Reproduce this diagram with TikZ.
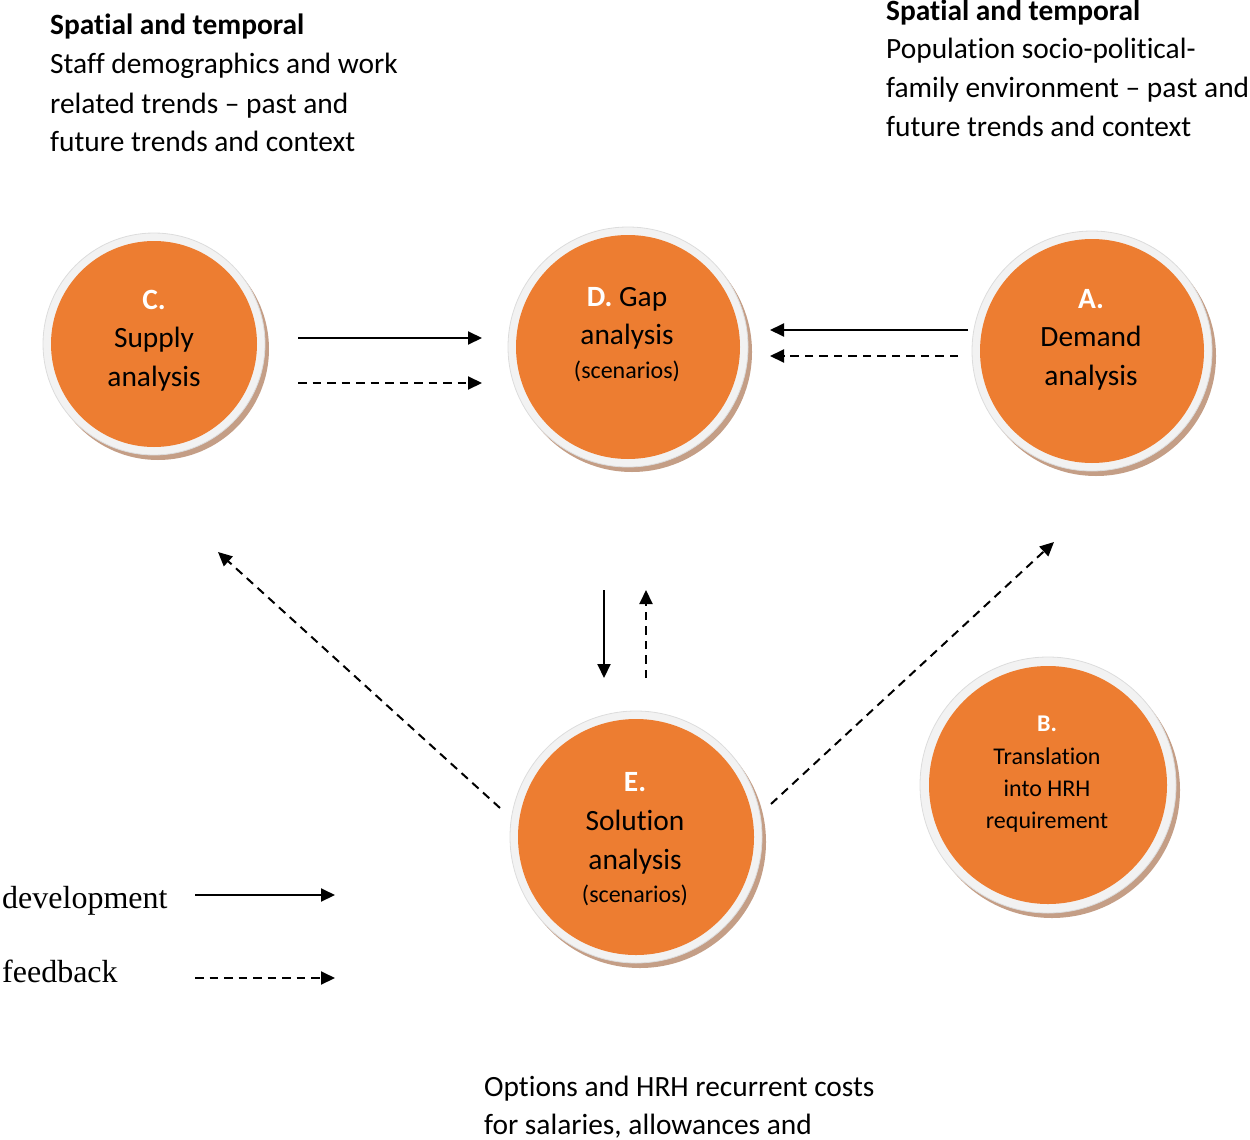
\documentclass[tikz,border=0pt]{standalone}
\usepackage{fontspec}
\setmainfont{Carlito}[Ligatures={TeX,NoCommon}]
\newfontfamily\legendfont{Liberation Serif}
\usetikzlibrary{arrows.meta}
\definecolor{discorange}{HTML}{ED7D31}
\definecolor{ringgray}{HTML}{F2F2F2}
\definecolor{ringedge}{HTML}{DCDCDC}
\definecolor{shadowbrown}{HTML}{C49E86}
\tikzset{
  big/.style={font=\fontsize{29.4}{38}\selectfont},
  small/.style={font=\fontsize{24}{32}\selectfont},
  legendtext/.style={font=\legendfont\fontsize{32}{38}\selectfont},
  lbl/.style={inner sep=0pt, anchor=base},
  lblw/.style={inner sep=0pt, anchor=base west},
  dev/.style={line width=2pt, -{Triangle[length=14pt,width=13pt]}},
  fb/.style={dev, dash pattern=on 8.5pt off 6pt},
}
\newcommand\mydisc[5]{%
  \fill[shadowbrown] (#2+4,#3+5) circle[radius=#4];
  \path[fill=ringgray, draw=ringedge, line width=0.8pt] (#2,#3) circle[radius=#4];
  \fill[discorange] (#2,#3) circle[radius=#5];
  \node[circle, minimum size=2*#4, inner sep=0pt] (#1) at (#2,#3) {};
}
\begin{document}
\begin{tikzpicture}[x=1pt,y=-1pt]
\useasboundingbox (0,0) rectangle (1250,1140);

% discs
\mydisc{C}{154}{344}{111}{103}
\mydisc{D}{628}{347}{120}{112}
\mydisc{A}{1092}{351}{120}{112}
\mydisc{B}{1048}{785}{128}{119}
\mydisc{E}{636}{837}{126}{118}

% disc texts
\node[lbl,big] (Ct1) at (154,309) {\color{white}\bfseries C.};
\node[lbl,big] (Ct2) at (154,347) {Supply};
\node[lbl,big] (Ct3) at (154,386) {analysis};

\node[lbl,big] (Dt1) at (627,306) {{\color{white}\bfseries D.} Gap};
\node[lbl,big] (Dt2) at (627,344) {analysis};
\node[lbl,small] (Dt3) at (627,378) {(scenarios)};

\node[lbl,big] (At1) at (1091,308) {\color{white}\bfseries A.};
\node[lbl,big] (At2) at (1091,346) {Demand};
\node[lbl,big] (At3) at (1091,385) {analysis};

\node[lbl,small] (Bt1) at (1047,731) {\color{white}\bfseries B.};
\node[lbl,small] (Bt2) at (1047,764) {Translation};
\node[lbl,small] (Bt3) at (1047,796) {into HRH};
\node[lbl,small] (Bt4) at (1047,828) {requirement};

\node[lbl,big] (Et1) at (635,791) {\color{white}\bfseries E.};
\node[lbl,big] (Et2) at (635,830) {Solution};
\node[lbl,big] (Et3) at (635,869) {analysis};
\node[lbl,small] (Et4) at (635,902) {(scenarios)};

% header texts
\node[lblw,big] (hl1) at (50,35) {\bfseries Spatial and temporal};
\node[lblw,big] (hl2) at (50,74) {Staff demographics and work};
\node[lblw,big] (hl3) at (50,113) {related trends -- past and};
\node[lblw,big] (hl4) at (50,151) {future trends and context};

\node[lblw,big] (hr1) at (886,21) {\bfseries Spatial and temporal};
\node[lblw,big] (hr2) at (886,59) {Population socio-political-};
\node[lblw,big] (hr3) at (886,97) {family environment -- past and};
\node[lblw,big] (hr4) at (886,136) {future trends and context};

\node[lblw,big] (bt1) at (484,1096) {Options and HRH recurrent costs};
\node[lblw,big] (bt2) at (484,1134) {for salaries, allowances and};

% legend
\node[lblw,legendtext] (lg1) at (2,908) {development};
\node[lblw,legendtext] (lg2) at (2,982) {feedback};

% connector end points
\coordinate (cdA) at (298,338); \coordinate (cdB) at (482,338);
\coordinate (cdC) at (298,383); \coordinate (cdD) at (482,383);
\coordinate (adA) at (968,330); \coordinate (adB) at (770,330);
\coordinate (adC) at (958,356); \coordinate (adD) at (770,356);
\coordinate (deA) at (604,590); \coordinate (deB) at (604,678);
\coordinate (edA) at (646,678); \coordinate (edB) at (646,590);
\coordinate (ecA) at (500,808); \coordinate (ecB) at (218,552);
\coordinate (eaA) at (771,804); \coordinate (eaB) at (1054,542);
\coordinate (lgA) at (195,895); \coordinate (lgB) at (335,895);
\coordinate (lgC) at (195,978); \coordinate (lgD) at (335,978);

\draw[dev] (cdA) -- (cdB);
\draw[fb]  (cdC) -- (cdD);
\draw[dev] (adA) -- (adB);
\draw[fb]  (adC) -- (adD);
\draw[dev] (deA) -- (deB);
\draw[fb]  (edA) -- (edB);
\draw[fb]  (ecA) -- (ecB);
\draw[fb]  (eaA) -- (eaB);
\draw[dev] (lgA) -- (lgB);
\draw[fb]  (lgC) -- (lgD);
\end{tikzpicture}
\end{document}
